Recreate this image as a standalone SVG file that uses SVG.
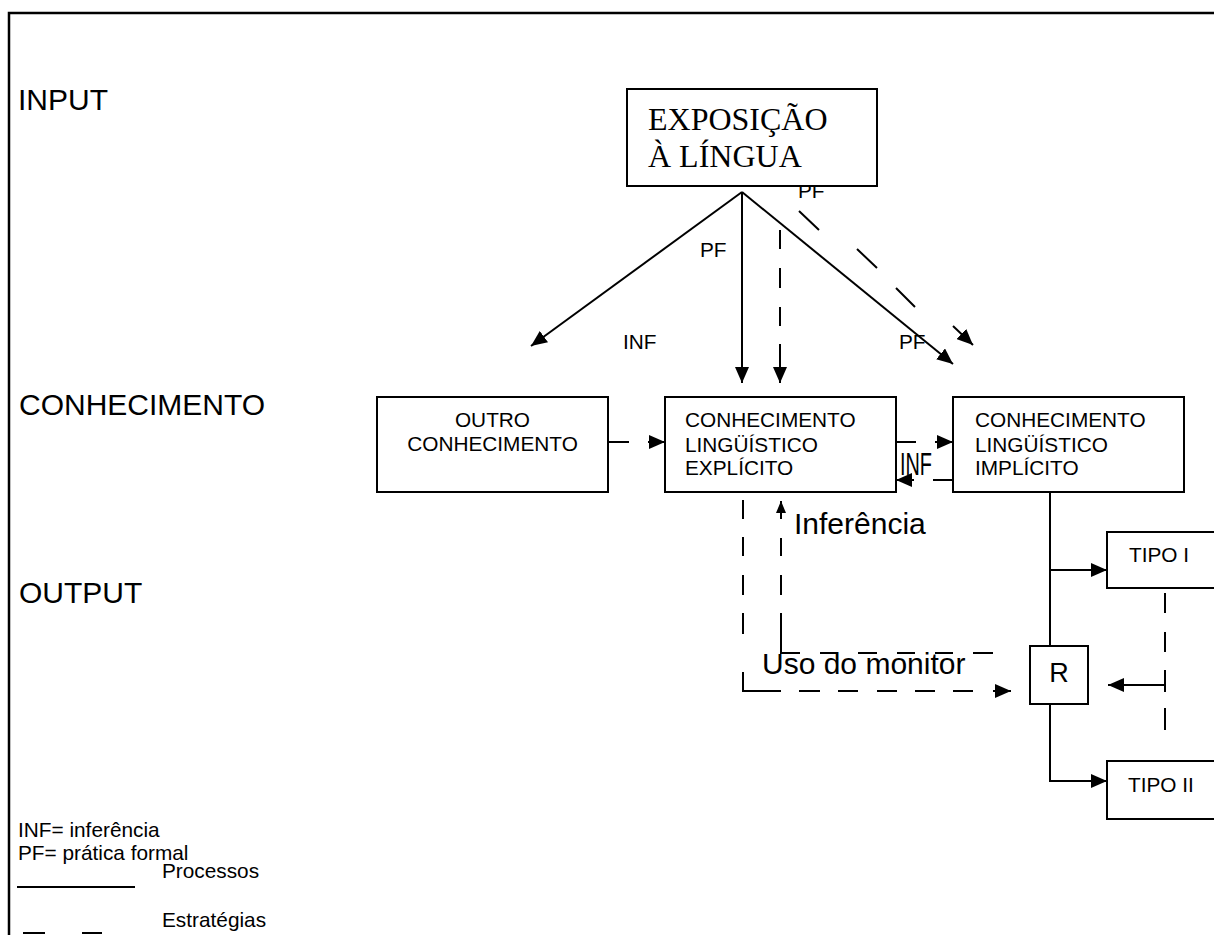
<svg xmlns="http://www.w3.org/2000/svg" width="1214" height="935" viewBox="0 0 1214 935">
  <style>
    .frame { fill: none; stroke: #000; stroke-width: 2.5; }
    .box { fill: #fff; stroke: #000; stroke-width: 2; }
    .line { fill: none; stroke: #000; stroke-width: 2; }
    .sans { font-family: "Liberation Sans", Arial, sans-serif; fill: #000; }
    .serif { font-family: "Liberation Serif", "Times New Roman", serif; fill: #000; font-size: 32px; }
    .small { font-size: 20.8px; }
    .big { font-size: 30px; }
    .mid { text-anchor: middle; }
  </style>
  <defs>
    <marker id="arrow" markerUnits="userSpaceOnUse" markerWidth="16" markerHeight="14" refX="16" refY="7" orient="auto">
      <path d="M0,0 L16,7 L0,14 z" fill="#000"/>
    </marker>
    <marker id="arrow-sm" markerUnits="userSpaceOnUse" markerWidth="12" markerHeight="10" refX="12" refY="5" orient="auto">
      <path d="M0,0 L12,5 L0,10 z" fill="#000"/>
    </marker>
  </defs>

  <rect class="frame" x="9" y="13" width="1230" height="940"/>

  <!-- row labels -->
  <g id="row-labels" class="sans big">
    <text x="18" y="110">INPUT</text>
    <text x="19" y="415">CONHECIMENTO</text>
    <text x="19" y="603">OUTPUT</text>
  </g>

  <!-- connectors and their labels -->
  <g id="connectors">
    <!-- processes (solid) -->
    <path class="line" d="M742,192 L531,346" marker-end="url(#arrow)"/>
    <path class="line" d="M742,192 V383" marker-end="url(#arrow)"/>
    <path class="line" d="M742,192 L953,364" marker-end="url(#arrow)"/>
    <path class="line" d="M1050,492 V646"/>
    <path class="line" d="M1050,570 H1107" marker-end="url(#arrow)"/>
    <path class="line" d="M1050,704 V781 H1107" marker-end="url(#arrow)"/>
    <path class="line" d="M1165,685 H1108" marker-end="url(#arrow)"/>

    <!-- strategies (dashed) -->
    <path class="line" d="M780,230 V249 M780,268 V288 M780,307 V326 M780,344 V383" marker-end="url(#arrow)"/>
    <path class="line" d="M799,211 L819,230 M857,249 L877,268 M896,288 L915,307 M953,326 L973,345" marker-end="url(#arrow)"/>
    <path class="line" d="M608,442 H629 M648,442 H665" marker-end="url(#arrow)"/>
    <path class="line" d="M896,442 H916 M935,442 H953" marker-end="url(#arrow)"/>
    <path class="line" d="M953,480 H933 M914,480 H896" marker-end="url(#arrow)"/>
    <path class="line" d="M743,500 V519 M743,537 V556 M743,575 V595 M743,613 V634 M743,672 V691 H781 M799,691 H820 M838,691 H858 M877,691 H897 M915,691 H935 M953,691 H973 M993,691 H1011" marker-end="url(#arrow)"/>
    <path class="line" d="M993,653 H973 M953,653 H935 M915,653 H897 M877,653 H858 M838,653 H820 M800,653 H781 V613 M781,595 V575 M781,556 V538 M781,519 V501" marker-end="url(#arrow-sm)"/>
    <path class="line" d="M1165,593 V613 M1165,632 V652 M1165,670 V692 M1165,708 V730"/>

    <g class="sans small">
      <text x="798" y="198">PF</text>
      <text x="700" y="257">PF</text>
      <text x="623" y="349">INF</text>
      <text x="899" y="349">PF</text>
    </g>
    <text class="sans" x="900" y="475" font-size="32" textLength="32" lengthAdjust="spacingAndGlyphs">INF</text>
    <text class="sans big" x="794" y="534">Inferência</text>
    <text class="sans big" x="762" y="674">Uso do monitor</text>
  </g>

  <!-- nodes -->
  <g id="exposicao">
    <rect class="box" x="627" y="89" width="250" height="97"/>
    <text class="serif" x="648" y="130">EXPOSIÇÃO</text>
    <text class="serif" x="648" y="167">À LÍNGUA</text>
  </g>
  <g id="outro-conhecimento">
    <rect class="box" x="377" y="397" width="231" height="95"/>
    <text class="sans small mid" x="492.5" y="427">OUTRO</text>
    <text class="sans small mid" x="492.5" y="451">CONHECIMENTO</text>
  </g>
  <g id="conhecimento-explicito">
    <rect class="box" x="665" y="397" width="231" height="95"/>
    <text class="sans small" x="685" y="427">CONHECIMENTO</text>
    <text class="sans small" x="685" y="452">LINGÜÍSTICO</text>
    <text class="sans small" x="685" y="475">EXPLÍCITO</text>
  </g>
  <g id="conhecimento-implicito">
    <rect class="box" x="953" y="397" width="231" height="95"/>
    <text class="sans small" x="975" y="427">CONHECIMENTO</text>
    <text class="sans small" x="975" y="452">LINGÜÍSTICO</text>
    <text class="sans small" x="975" y="475">IMPLÍCITO</text>
  </g>
  <g id="tipo-i">
    <rect class="box" x="1107" y="532" width="130" height="56"/>
    <text class="sans small" x="1129" y="562">TIPO I</text>
  </g>
  <g id="r">
    <rect class="box" x="1030" y="646" width="58" height="58"/>
    <text class="sans mid" x="1059" y="682" font-size="27">R</text>
  </g>
  <g id="tipo-ii">
    <rect class="box" x="1107" y="761" width="130" height="58"/>
    <text class="sans small" x="1128" y="792">TIPO II</text>
  </g>

  <!-- legend -->
  <g id="legend" class="sans small">
    <text x="18" y="837">INF= inferência</text>
    <text x="18" y="860">PF= prática formal</text>
    <path class="line" d="M17,887 H135"/>
    <text x="162" y="878">Processos</text>
    <path class="line" d="M23,933 H45 M82,933 H102"/>
    <text x="162" y="927">Estratégias</text>
  </g>
</svg>
